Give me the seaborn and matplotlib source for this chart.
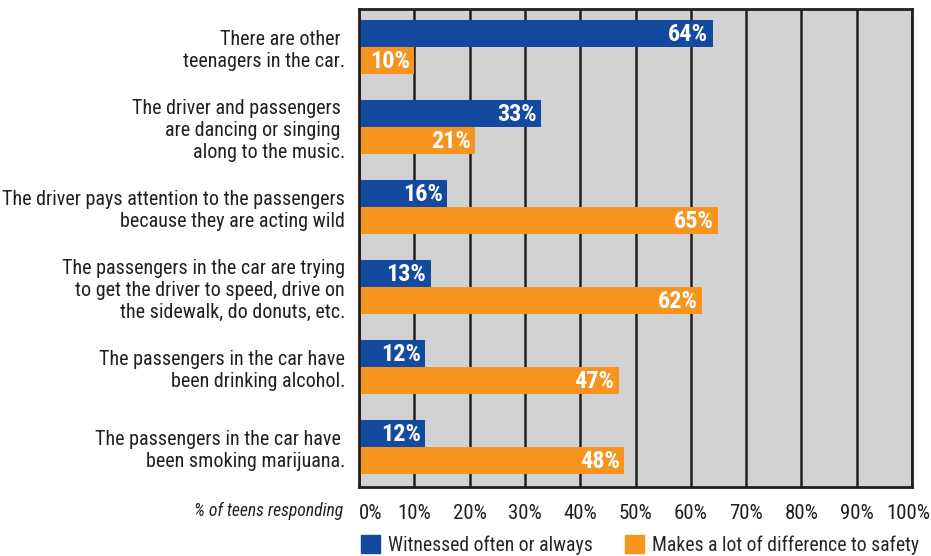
import numpy as np
import pandas as pd
import seaborn as sns
import matplotlib.pyplot as plt
import matplotlib.font_manager as fm
from matplotlib.transforms import ScaledTranslation

# data
behaviours = [
    "There are other \nteenagers in the car.",
    "The driver and passengers \nare dancing or singing \nalong to the music.",
    "The driver pays attention to the passengers\nbecause they are acting wild",
    "The passengers in the car are trying\nto get the driver to speed, drive on\nthe sidewalk, do donuts, etc.",
    "The passengers in the car have\nbeen drinking alcohol.",
    "The passengers in the car have \nbeen smoking marijuana.",
]
witnessed = [64, 33, 16, 13, 12, 12]
difference = [10, 21, 65, 62, 47, 48]
series_names = ["Witnessed often or always", "Makes a lot of difference to safety"]
x_ticks = [0, 10, 20, 30, 40, 50, 60, 70, 80, 90, 100]

df = pd.DataFrame({
    "behaviour": behaviours * 2,
    "series": [series_names[0]] * len(behaviours) + [series_names[1]] * len(behaviours),
    "pct": witnessed + difference,
})

sns.set_style("white")

# look for a condensed face, the reference uses a narrow grotesque
cond_words = ("condensed", "semi-condensed", "extra-condensed", "ultra-condensed")
found = None
for f in fm.fontManager.ttflist:
    st = str(f.stretch).lower()
    if "narrow" in f.name.lower() or "condensed" in f.name.lower() or st in cond_words:
        if f.style == "normal":
            found = f
            if "liberation" in f.name.lower() or "roboto" in f.name.lower():
                break
if found is not None:
    plt.rcParams['font.family'] = [found.name, 'DejaVu Sans']
    st = str(found.stretch).lower()
    if st in cond_words:
        plt.rcParams['font.stretch'] = st
    base = 14.5
else:
    plt.rcParams['font.family'] = ['Liberation Sans', 'DejaVu Sans']
    base = 12

fig = plt.figure(figsize=(9.31, 5.56), dpi=100)
ax = fig.add_axes([359 / 931, 1 - 487 / 556, (912 - 359) / 931, (487 - 9) / 556])
ax.set_facecolor("#d1d2d4")

blue = "#134a9f"
orange = "#f7941d"
sns.barplot(data=df, y="behaviour", x="pct", hue="series", orient="h",
            palette=[blue, orange], width=0.68, saturation=1, ax=ax, legend=False,
            linewidth=0, edgecolor="none")

# value labels inside bar ends
for cont in ax.containers:
    for p in cont.patches:
        w = p.get_width()
        ax.text(w - 0.8, p.get_y() + p.get_height() / 2 + 0.01, f"{w:.0f}%",
                ha="right", va="center", color="white", fontsize=base + 3, fontweight="bold")

ax.set_xlim(0, 100)
ax.set_ylim(5.5, -0.475)
ax.set_xticks(x_ticks)
ax.set_xticklabels([f"{t}%" for t in x_ticks], fontsize=base + 0.5, color="#231f20")
ax.tick_params(axis="x", length=0, pad=12)
ax.tick_params(axis="y", length=0, pad=10, labelsize=base, labelcolor="#231f20")
ax.set_xlabel("")
ax.set_ylabel("")
ax.grid(axis="x", color="#231f20", lw=1.8)
ax.grid(axis="y", visible=False)
ax.set_axisbelow(True)
for s in ax.spines.values():
    s.set_visible(True)
    s.set_color("#231f20")
    s.set_linewidth(2)
# first label starts at the axis edge, last one nudged in so it stays on the canvas
xl = ax.get_xticklabels()
xl[0].set_horizontalalignment("left")
xl[-1].set_transform(xl[-1].get_transform() + ScaledTranslation(-4 / 100, 0, fig.dpi_scale_trans))

fig.text(343 / 931, 1 - 511 / 556, "% of teens responding", ha="right", va="center",
         fontsize=base - 1.8, fontstyle="italic", color="#231f20")

handles = [plt.Rectangle((0, 0), 1, 1, color=c) for c in (blue, orange)]
fig.legend(handles, series_names, loc="center", bbox_to_anchor=(640 / 931, 1 - 545 / 556),
           ncol=2, frameon=False, fontsize=base - 0.3, handlelength=1.0, handleheight=1.0,
           handletextpad=0.4, columnspacing=1.6, borderaxespad=0)

fig.savefig("out.png", dpi=100)
